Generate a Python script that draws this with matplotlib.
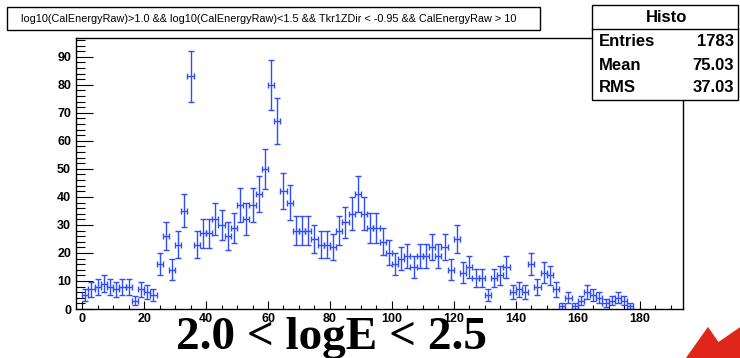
import matplotlib
matplotlib.use("Agg")
import matplotlib.pyplot as plt
import numpy as np
from matplotlib.ticker import MultipleLocator
from matplotlib.patches import Rectangle, FancyArrow

plt.rcParams['font.family'] = ['Liberation Sans', 'DejaVu Sans']

# histogram contents, 2-unit bins
bin_centers = [1, 3, 5, 7, 9, 11, 13, 15, 17, 19, 21, 23,
               25, 27, 29, 31, 33, 35, 37, 39, 41, 43, 45, 47, 49, 51, 53, 55, 57, 59,
               61, 63, 65, 67, 69, 71, 73, 75, 77, 79, 81, 83,
               85, 87, 89, 91, 93, 95, 97, 99, 101, 103, 105, 107, 109, 111, 113, 115,
               117, 119, 121, 123, 125, 127, 129,
               131, 133, 135, 137, 139, 141, 143, 145, 147, 149, 151, 153, 155, 157,
               159, 161, 163, 165, 167, 169, 171, 173, 175, 177]
counts = [5, 7, 8, 9, 8, 7, 8, 8, 3, 7, 6, 5,
          16, 26, 14, 23, 35, 83, 23, 27, 27, 32, 30, 26, 29, 37, 32, 37, 41, 50,
          80, 67, 42, 38, 28, 28, 28, 25, 23, 23, 22, 28,
          31, 34, 41, 34, 29, 29, 24, 20, 16, 18, 19, 15, 19, 19, 22, 19,
          22, 14, 25, 13, 15, 11, 11,
          5, 11, 12, 15, 6, 7, 6, 16, 8, 13, 12, 7, 1, 4,
          1, 3, 6, 5, 4, 2, 3, 4, 3, 1]
bin_half = 1.0

cut_title = "log10(CalEnergyRaw)>1.0 && log10(CalEnergyRaw)<1.5 && Tkr1ZDir < -0.95 && CalEnergyRaw > 10"
stats = [("Entries", "1783"), ("Mean", "75.03"), ("RMS", "37.03")]
energy_label = "2.0 < logE < 2.5"

W, H = 740, 358
fig = plt.figure(figsize=(W / 100, H / 100), dpi=100)
inch = fig.dpi_scale_trans


def px(x, y):
    # pixel position (from top-left) -> inches from bottom-left
    return x / 100, (H - y) / 100


ax = fig.add_axes([76 / W, 49 / H, 607 / W, 271 / H])
x = np.array(bin_centers)
y = np.array(counts)
ax.errorbar(x, y, xerr=bin_half, yerr=np.sqrt(y), fmt='none',
            ecolor='#2f4dff', elinewidth=1.0, capsize=2.4, capthick=1.0)

ax.set_xlim(-2, 194)
ax.set_ylim(0, 96.7)
ax.xaxis.set_major_locator(MultipleLocator(20))
ax.xaxis.set_minor_locator(MultipleLocator(5))
ax.yaxis.set_major_locator(MultipleLocator(10))
ax.yaxis.set_minor_locator(MultipleLocator(2))
ax.tick_params(axis='x', which='major', direction='in', length=5.8, width=0.8, pad=3,
               labelsize=9)
ax.tick_params(axis='x', which='minor', direction='in', length=2.9, width=0.8)
ax.tick_params(axis='y', which='major', direction='in', length=12, width=0.8, pad=3.5,
               labelsize=9)
ax.tick_params(axis='y', which='minor', direction='in', length=6.5, width=0.8)
for lab in ax.get_xticklabels() + ax.get_yticklabels():
    lab.set_fontweight('bold')
for sp in ax.spines.values():
    sp.set_linewidth(1.0)

# cut string box
fig.add_artist(Rectangle(px(7, 30), 5.33, 0.23, transform=inch,
                         facecolor='white', edgecolor='black', linewidth=1.0))
tx, ty = px(21, 19)
fig.text(tx, ty, cut_title, transform=inch, fontsize=7.8, ha='left', va='center')

# statistics box
fig.add_artist(Rectangle(px(592, 100), 1.46, 0.95, transform=inch, zorder=5,
                         facecolor='white', edgecolor='black', linewidth=1.0))
fig.add_artist(plt.Line2D([5.92, 7.38], [(H - 29.3) / 100] * 2, transform=inch,
                          color='black', linewidth=1.0, zorder=6))
hx, hy = px(667, 17)
fig.text(hx, hy, "Histo", transform=inch, fontsize=12, fontweight='bold',
         ha='center', va='center', zorder=7)
for i, (name, val) in enumerate(stats):
    row = 42 + i * 23
    lx, ly = px(599, row)
    rx, _ = px(734, row)
    fig.text(lx, ly, name, transform=inch, fontsize=12, fontweight='bold',
             ha='left', va='center', zorder=7)
    fig.text(rx, ly, val, transform=inch, fontsize=12, fontweight='bold',
             ha='right', va='center', zorder=7)

# energy band label
bx, by = px(331, 349)
fig.text(bx, by, energy_label, transform=inch, fontsize=34, fontweight='bold',
         family=['Liberation Serif', 'DejaVu Serif'], ha='center', va='baseline')

# red pointer arrow coming in from the lower right
tip = np.array(px(652.6, 404.9))
tail = np.array(px(818, 290))
fig.add_artist(FancyArrow(tail[0], tail[1], tip[0] - tail[0], tip[1] - tail[1],
                          width=0.28, head_width=0.65, head_length=0.90,
                          length_includes_head=True, transform=inch,
                          facecolor='#e0261a', edgecolor='none', zorder=8))

fig.savefig("out.png", dpi=100)
